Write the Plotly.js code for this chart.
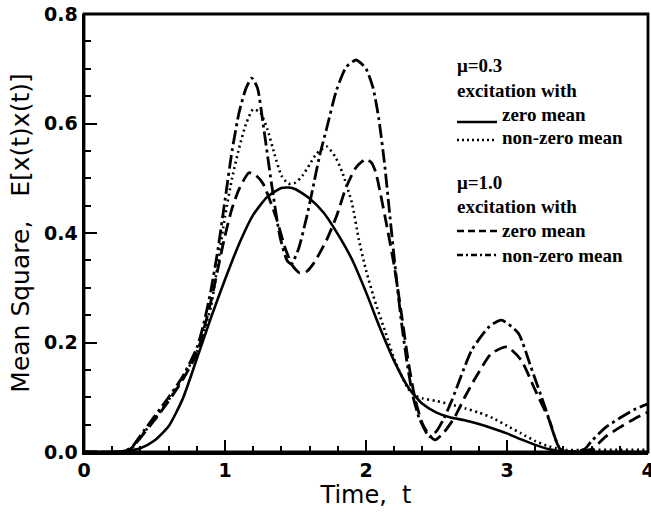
<!DOCTYPE html>
<html>
<head>
<meta charset="utf-8">
<script src="https://cdn.plot.ly/plotly-3.0.1.min.js"></script>
<style>
  html, body { margin: 0; padding: 0; background: #ffffff; }
  #chart { width: 651px; height: 515px; }
</style>
</head>
<body>
<div id="chart"></div>
<script>
// ---- data ----
// mu = 0.3, zero-mean excitation (solid)
const tZero03 = [0,0.2,0.3,0.4,0.5,0.6,0.7,0.8,0.9,1.0,1.1,1.2,1.3,1.4,1.45,1.5,1.6,1.7,1.8,1.9,2.0,2.1,2.2,2.3,2.4,2.5,2.6,2.7,2.8,2.9,3.0,3.1,3.2,3.3,3.4,3.6,3.8,4.0];
const vZero03 = [0,0,0.002,0.007,0.021,0.047,0.097,0.17,0.245,0.315,0.38,0.433,0.466,0.482,0.483,0.48,0.463,0.437,0.398,0.352,0.292,0.226,0.166,0.118,0.088,0.072,0.063,0.058,0.051,0.043,0.034,0.023,0.013,0.005,0.001,0,0,0];

// mu = 0.3, non-zero-mean excitation (dotted)
const tNonZero03 = [0,0.25,0.3,0.35,0.4,0.5,0.6,0.7,0.8,0.85,0.9,0.95,1.0,1.05,1.1,1.15,1.2,1.25,1.3,1.35,1.4,1.45,1.5,1.55,1.6,1.65,1.72,1.78,1.83,1.9,1.95,2.0,2.07,2.14,2.2,2.3,2.35,2.4,2.5,2.6,2.7,2.8,2.9,3.0,3.1,3.2,3.3,3.4,3.6,3.8,4.0];
const vNonZero03 = [0,0,0.002,0.01,0.027,0.06,0.095,0.135,0.183,0.22,0.265,0.345,0.43,0.5,0.555,0.6,0.626,0.62,0.59,0.545,0.505,0.49,0.492,0.505,0.525,0.545,0.558,0.54,0.512,0.455,0.387,0.332,0.27,0.217,0.17,0.115,0.103,0.098,0.093,0.087,0.08,0.072,0.062,0.048,0.034,0.02,0.01,0.004,0.004,0.004,0.004];

// mu = 1.0, zero-mean excitation (dashed)
const tZero10 = [0,0.25,0.3,0.35,0.4,0.5,0.6,0.7,0.8,0.9,0.95,1.0,1.05,1.1,1.17,1.22,1.27,1.36,1.43,1.48,1.53,1.58,1.63,1.72,1.79,1.86,1.93,2.0,2.04,2.07,2.1,2.15,2.2,2.25,2.3,2.35,2.4,2.45,2.49,2.55,2.63,2.7,2.78,2.89,3.0,3.1,3.2,3.3,3.38,3.5,3.6,3.65,3.7,3.8,3.9,4.0];
const vZero10 = [0,0,0.002,0.01,0.026,0.058,0.093,0.132,0.18,0.275,0.335,0.395,0.445,0.48,0.51,0.505,0.49,0.43,0.37,0.34,0.327,0.33,0.345,0.387,0.43,0.484,0.52,0.535,0.528,0.51,0.475,0.41,0.34,0.255,0.165,0.095,0.052,0.03,0.022,0.035,0.064,0.1,0.137,0.18,0.192,0.168,0.113,0.058,0.004,0,0.005,0.016,0.028,0.045,0.06,0.073];

// mu = 1.0, non-zero-mean excitation (dash-dot)
const tNonZero10 = [0,0.25,0.3,0.35,0.4,0.5,0.6,0.7,0.8,0.85,0.9,0.95,1.0,1.05,1.1,1.15,1.19,1.23,1.27,1.33,1.39,1.44,1.47,1.52,1.58,1.62,1.67,1.72,1.79,1.86,1.93,2.0,2.05,2.09,2.13,2.17,2.21,2.25,2.29,2.33,2.38,2.45,2.5,2.55,2.61,2.75,2.87,2.96,3.08,3.17,3.27,3.38,3.45,3.55,3.6,3.7,3.8,3.9,4.0];
const vNonZero10 = [0,0,0.003,0.012,0.03,0.065,0.1,0.138,0.19,0.235,0.295,0.37,0.46,0.55,0.62,0.665,0.683,0.665,0.6,0.49,0.393,0.35,0.343,0.37,0.43,0.478,0.54,0.59,0.66,0.703,0.716,0.7,0.665,0.61,0.53,0.43,0.33,0.24,0.165,0.105,0.06,0.028,0.038,0.06,0.095,0.186,0.228,0.241,0.217,0.155,0.082,0.004,0,0.005,0.02,0.045,0.062,0.077,0.088];

const xTickVals = [0,1,2,3,4];
const xTickText = ['0','1','2','3','4'];
const yTickVals = [0,0.2,0.4,0.6,0.8];
const yTickText = ['0.0','0.2','0.4','0.6','0.8'];

const xTitle = 'Time,\u00a0\u00a0t';
const yTitle = 'Mean Square,\u00a0\u00a0\u00a0E[x(t)x(t)]';
const legendHead1 = ['μ=0.3', 'excitation with'];
const legendHead2 = ['μ=1.0', 'excitation with'];
const legendItems = ['zero mean', 'non-zero mean', 'zero mean', 'non-zero mean'];

// ---- layout geometry ----
const W = 651, H = 515;
const M = {l: 84, r: 3, t: 14, b: 63};
const PW = W - M.l - M.r, PH = H - M.t - M.b;
const PX = px => (px - M.l) / PW;          // pixel -> paper x
const PY = py => (M.t + PH - py) / PH;     // pixel -> paper y

const DOT = '2px,3.5px';
const DASH = '13px,6px';
const DASHDOT = '14px,4px,3px,4px';

function curve(t, v, dash, width, name) {
  return {
    x: t, y: v, type: 'scatter', mode: 'lines', name: name,
    line: {color: '#000', width: width, dash: dash, shape: 'spline', smoothing: 0.6},
    hoverinfo: 'skip', showlegend: false
  };
}

const traces = [
  curve(tZero03, vZero03, 'solid', 2.6, 'μ=0.3 zero mean'),
  curve(tNonZero03, vNonZero03, DOT, 2.6, 'μ=0.3 non-zero mean'),
  curve(tZero10, vZero10, DASH, 2.8, 'μ=1.0 zero mean'),
  curve(tNonZero10, vNonZero10, DASHDOT, 2.8, 'μ=1.0 non-zero mean')
];

const legFont = {family: 'Liberation Serif, Times New Roman, serif', size: 19, color: '#000', weight: 'bold'};
function txt(s, px, py) {
  return {text: s, xref: 'paper', yref: 'paper', x: PX(px), y: PY(py),
          xanchor: 'left', yanchor: 'middle', showarrow: false, font: legFont};
}
const annotations = [
  txt(legendHead1[0], 455, 65),
  txt(legendHead1[1], 455, 90),
  txt(legendItems[0], 500, 114),
  txt(legendItems[1], 500, 137),
  txt(legendHead2[0], 455, 183),
  txt(legendHead2[1], 455, 207),
  txt(legendItems[2], 500, 231),
  txt(legendItems[3], 500, 255)
];

function sample(py, dash, width) {
  return {type: 'line', xref: 'paper', yref: 'paper',
          x0: PX(457), x1: PX(497), y0: PY(py), y1: PY(py),
          line: {color: '#000', width: width, dash: dash}};
}
const shapes = [
  // plot frame
  {type: 'rect', xref: 'paper', yref: 'paper', x0: 0, x1: 1, y0: 0, y1: 1,
   line: {color: '#000', width: 2.8}, fillcolor: 'rgba(0,0,0,0)', layer: 'above'},
  sample(122, 'solid', 2.4),
  sample(140, '2px,3px', 2.4),
  sample(231, '7px,4px', 2.4),
  sample(255, '6px,3px,2px,3px', 2.4)
];

const tickFont = {family: 'DejaVu Sans', size: 19, color: '#000', weight: 'bold'};

function frameAxis(extra) {
  return Object.assign({
    ticks: 'inside', tickwidth: 2, tickcolor: '#000',
    showgrid: false, zeroline: false, ticklabeloverflow: 'allow'
  }, extra);
}

const layout = {
  width: W, height: H,
  margin: M,
  paper_bgcolor: '#fff', plot_bgcolor: '#fff',
  showlegend: false,
  xaxis: frameAxis({
    range: [0, 4], tickmode: 'array', tickvals: xTickVals, ticktext: xTickText, ticklen: 12,
    showline: true, linewidth: 2.5, linecolor: '#000',
    tickfont: tickFont,
    minor: {dtick: 0.2, tick0: 0, ticks: 'inside', ticklen: 6, tickwidth: 2, tickcolor: '#000', showgrid: false},
    title: {text: xTitle, font: {family: 'DejaVu Sans', size: 24, color: '#000'}, standoff: 6}
  }),
  xaxis2: frameAxis({
    range: [0, 4], overlaying: 'x', side: 'top', anchor: 'y',
    tickmode: 'linear', tick0: 0, dtick: 1, ticklen: 12, showticklabels: false, showline: false,
    minor: {dtick: 0.2, tick0: 0, ticks: 'inside', ticklen: 6, tickwidth: 2, tickcolor: '#000', showgrid: false}
  }),
  yaxis: frameAxis({
    range: [0, 0.8], tickmode: 'array', tickvals: yTickVals, ticktext: yTickText, ticklen: 13,
    showline: true, linewidth: 2.5, linecolor: '#000',
    tickfont: tickFont,
    minor: {dtick: 0.05, tick0: 0, ticks: 'inside', ticklen: 7, tickwidth: 2, tickcolor: '#000', showgrid: false},
    title: {text: yTitle, font: {family: 'DejaVu Sans', size: 25, color: '#000'}, standoff: 8}
  }),
  yaxis2: frameAxis({
    range: [0, 0.8], overlaying: 'y', side: 'right', anchor: 'x',
    tickmode: 'linear', tick0: 0, dtick: 0.2, ticklen: 13, showticklabels: false, showline: false,
    minor: {dtick: 0.05, tick0: 0, ticks: 'inside', ticklen: 7, tickwidth: 2, tickcolor: '#000', showgrid: false}
  }),
  annotations: annotations,
  shapes: shapes
};

Plotly.newPlot('chart', traces, layout, {staticPlot: true, displayModeBar: false});
</script>
</body>
</html>
